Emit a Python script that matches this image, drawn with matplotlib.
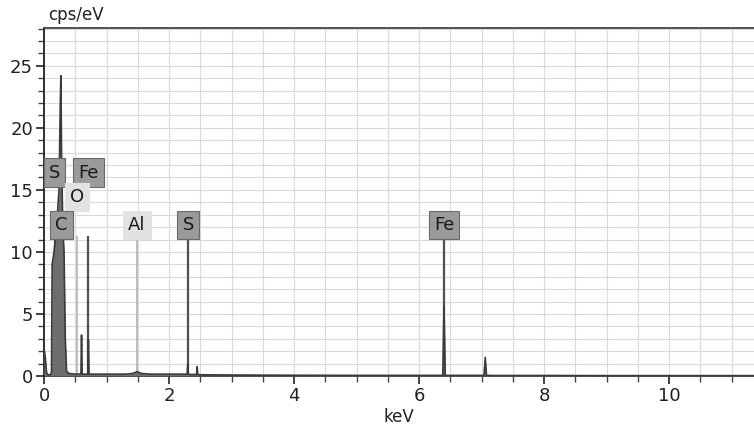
import matplotlib
matplotlib.use("Agg")
import matplotlib.pyplot as plt
from matplotlib.ticker import MultipleLocator

# ---- data ----
energy_kev = [0.00, 0.02, 0.04, 0.06, 0.10, 0.12, 0.13, 0.16, 0.20, 0.24, 0.26,
              0.27, 0.28, 0.30, 0.32, 0.34, 0.36, 0.40, 0.50, 0.59, 0.60, 0.61,
              0.63, 0.70, 0.71, 0.72, 0.73, 0.80, 1.00, 1.30, 1.42, 1.49, 1.56,
              1.70, 2.00, 2.29, 2.30, 2.31, 2.33, 2.44, 2.45, 2.46, 2.50, 3.00,
              4.00, 5.00, 6.00, 6.38, 6.40, 6.42, 6.50, 7.04, 7.06, 7.08, 7.20,
              8.00, 9.00, 10.00, 11.40]
counts_cps = [2.2, 1.5, 0.3, 0.1, 0.1, 0.3, 9.0, 10.0, 12.0, 15.0, 22.0,
              24.2, 18.0, 12.0, 10.0, 3.0, 0.4, 0.2, 0.15, 0.15, 3.3, 0.15,
              0.15, 0.15, 2.9, 0.15, 0.15, 0.15, 0.15, 0.15, 0.2, 0.35, 0.2,
              0.15, 0.15, 0.15, 1.0, 0.15, 0.12, 0.12, 0.75, 0.12, 0.1, 0.08,
              0.06, 0.05, 0.05, 0.05, 5.6, 0.05, 0.05, 0.05, 1.5, 0.05, 0.04,
              0.04, 0.03, 0.03, 0.03]

element_labels = ["S", "Fe", "O", "C", "Al", "S", "Fe"]
element_energy = [0.17, 0.71, 0.525, 0.277, 1.487, 2.307, 6.40]
label_level = [16.4, 16.4, 14.4, 12.15, 12.15, 12.15, 12.15]
label_selected = [True, True, False, True, False, True, True]
marker_height = 11.3

x_ticks = [0, 2, 4, 6, 8, 10]
y_ticks = [0, 5, 10, 15, 20, 25]

plt.rcParams['font.family'] = ['DejaVu Sans']

fig = plt.figure(figsize=(7.54, 4.36), dpi=100)
ax = fig.add_axes([0.0584, 0.1376, 0.9416, 0.7982])

ax.set_xlim(0, 11.36)
ax.set_ylim(0, 28.05)

# grid
ax.xaxis.set_minor_locator(MultipleLocator(0.5))
ax.yaxis.set_minor_locator(MultipleLocator(1))
ax.set_xticks(x_ticks)
ax.set_yticks(y_ticks)
ax.grid(which='both', color='#dadada', lw=0.8, zorder=0)
ax.set_axisbelow(True)

# marker lines
for lab, e, sel in zip(element_labels, element_energy, label_selected):
    ax.plot([e, e], [0, marker_height], color='#505050' if sel else '#b8b8b8',
            lw=1.6 if sel else 1.3, zorder=2, solid_capstyle='butt')

# spectrum
ax.fill_between(energy_kev, counts_cps, 0, color='#6e6e6e', lw=0, zorder=3)
ax.plot(energy_kev, counts_cps, color='#3a3a3a', lw=1.2, zorder=4)

# labels
for lab, e, lev, sel in zip(element_labels, element_energy, label_level, label_selected):
    if sel:
        bbox = dict(boxstyle='square,pad=0.28', fc='#9a9a9a', ec='#6a6a6a', lw=0.8)
    else:
        bbox = dict(boxstyle='square,pad=0.28', fc='#e2e2e2', ec='#e2e2e2', lw=0.8)
    ax.text(e, lev, lab, ha='center', va='center', fontsize=13, color='#1a1a1a',
            bbox=bbox, zorder=6)

ax.spines['right'].set_visible(False)
for s in ['left', 'bottom', 'top']:
    ax.spines[s].set_color('#222222')
    ax.spines[s].set_linewidth(1.3)
ax.spines['top'].set_color('#444444')

ax.tick_params(which='major', direction='out', length=6, width=1.2,
               labelsize=13, color='#222222', labelcolor='#222222', pad=2)
ax.tick_params(which='minor', direction='out', length=4, width=1.0, color='#444444')

ax.set_xlabel('keV', fontsize=12, color='#222222', labelpad=2)
fig.text(0.064, 0.945, 'cps/eV', fontsize=12, color='#222222', ha='left', va='bottom')

fig.savefig('out.png', dpi=100)
